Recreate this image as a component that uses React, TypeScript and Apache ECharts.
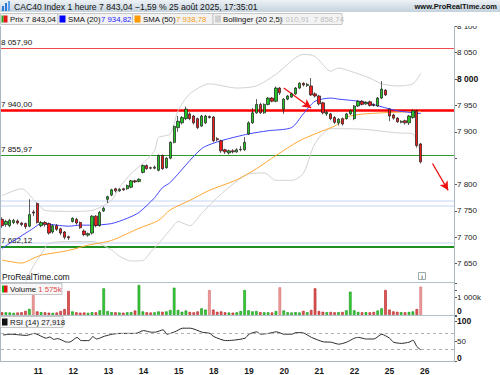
import React, { useEffect, useRef } from 'react';
import * as echarts from 'echarts';

// ---------- DATA ----------
const DAY_LABELS = ['8', '11', '12', '13', '14', '15', '18', '19', '20', '21', '22', '25', '26'];
const BARS_PER_DAY = 9;
const TOTAL_SLOTS = 116;

// [open, close, low, high]
const OHLC: number[][] = [
  // 8
  [7734, 7722, 7718, 7738], [7724, 7730, 7720, 7733], [7722, 7732, 7719, 7735], [7728, 7732, 7725, 7735],
  [7731, 7727, 7724, 7734], [7727, 7724, 7721, 7729], [7726, 7720, 7716, 7728], [7721, 7743, 7719, 7772],
  [7748, 7746, 7740, 7752],
  // 11
  [7764, 7728, 7726, 7766], [7722, 7728, 7719, 7731], [7728, 7724, 7720, 7731], [7726, 7708, 7705, 7728],
  [7710, 7722, 7707, 7724], [7722, 7715, 7712, 7725], [7716, 7708, 7704, 7718], [7710, 7700, 7696, 7712],
  [7701, 7699, 7695, 7703],
  // 12
  [7730, 7736, 7728, 7738], [7734, 7727, 7724, 7737], [7728, 7718, 7716, 7730], [7712, 7705, 7702, 7715],
  [7704, 7707, 7701, 7709], [7708, 7740, 7705, 7742], [7740, 7722, 7719, 7742], [7722, 7747, 7720, 7750],
  [7750, 7755, 7748, 7758],
  // 13
  [7772, 7777, 7765, 7779], [7780, 7790, 7778, 7792], [7792, 7788, 7785, 7794], [7788, 7791, 7786, 7793],
  [7792, 7790, 7788, 7794], [7792, 7798, 7790, 7800], [7795, 7807, 7793, 7809], [7807, 7805, 7803, 7809],
  [7806, 7810, 7804, 7812],
  // 14
  [7823, 7836, 7821, 7838], [7836, 7830, 7828, 7838], [7832, 7831, 7829, 7834], [7831, 7833, 7829, 7836],
  [7827, 7855, 7825, 7857], [7855, 7830, 7828, 7857], [7832, 7850, 7830, 7852], [7850, 7880, 7848, 7882],
  [7880, 7910, 7878, 7912],
  // 15
  [7908, 7920, 7900, 7930], [7917, 7927, 7914, 7930], [7925, 7943, 7922, 7948], [7934, 7925, 7922, 7937],
  [7930, 7917, 7914, 7932], [7925, 7908, 7905, 7927], [7911, 7930, 7909, 7932], [7917, 7930, 7915, 7932],
  [7929, 7927, 7925, 7931],
  // 18
  [7928, 7883, 7880, 7930], [7887, 7885, 7882, 7890], [7883, 7864, 7860, 7885], [7866, 7862, 7858, 7868],
  [7860, 7864, 7857, 7866], [7864, 7862, 7859, 7867], [7862, 7866, 7860, 7869], [7866, 7867, 7863, 7873],
  [7866, 7880, 7864, 7890],
  // 19
  [7896, 7917, 7894, 7920], [7917, 7936, 7915, 7945], [7936, 7952, 7934, 7962], [7952, 7936, 7934, 7955],
  [7936, 7952, 7934, 7954], [7952, 7964, 7950, 7966], [7964, 7958, 7956, 7966], [7958, 7983, 7956, 7986],
  [7983, 7974, 7970, 7985],
  // 20
  [7943, 7962, 7934, 7964], [7962, 7968, 7960, 7970], [7966, 7972, 7964, 7974], [7972, 7983, 7970, 7985],
  [7983, 7992, 7981, 7994], [7992, 7989, 7986, 7994], [7988, 7990, 7985, 7993], [7987, 7970, 7968, 8002],
  [7972, 7968, 7965, 7975],
  // 21
  [7968, 7953, 7950, 7970], [7955, 7936, 7933, 7957], [7934, 7937, 7930, 7940], [7934, 7925, 7922, 7936],
  [7927, 7918, 7915, 7930], [7917, 7924, 7912, 7926], [7925, 7915, 7912, 7927], [7925, 7934, 7923, 7936],
  [7934, 7940, 7932, 7942],
  // 22
  [7925, 7949, 7922, 7951], [7949, 7958, 7947, 7960], [7958, 7952, 7950, 7960], [7953, 7956, 7951, 7958],
  [7957, 7950, 7948, 7959], [7952, 7950, 7948, 7954], [7949, 7964, 7947, 7966], [7964, 7981, 7962, 7996],
  [7979, 7970, 7968, 7981],
  // 25
  [7943, 7930, 7920, 7945], [7932, 7926, 7923, 7934], [7926, 7919, 7917, 7928], [7918, 7920, 7916, 7922],
  [7921, 7917, 7914, 7923], [7917, 7930, 7913, 7932], [7927, 7940, 7925, 7942], [7940, 7874, 7870, 7942],
  [7877, 7843.04, 7840, 7879],
];

// volume in thousands
const VOLUME_K: number[] = [
  150, 150, 140, 120, 140, 150, 230, 340, 1206,
  200, 160, 150, 130, 120, 140, 220, 330, 1334,
  200, 150, 130, 140, 120, 160, 150, 260, 1483,
  220, 160, 150, 140, 130, 150, 160, 250, 1668,
  200, 150, 140, 150, 200, 180, 200, 280, 1520,
  280, 180, 250, 170, 150, 200, 370, 300, 1390,
  300, 180, 200, 150, 140, 130, 150, 220, 1390,
  260, 200, 220, 160, 150, 150, 140, 220, 1538,
  250, 150, 140, 160, 140, 230, 160, 280, 1483,
  220, 180, 160, 170, 150, 160, 170, 260, 1297,
  260, 170, 150, 160, 150, 170, 250, 370, 1390,
  300, 200, 180, 160, 150, 170, 200, 330, 1575,
];
const PALE_VOLUME_BARS = [8, 53, 71, 107];

// [bar index, value]
const SMA20: number[][] = [
  [0, 7679], [8, 7717], [10, 7726], [14, 7723], [17, 7721], [20, 7723], [23, 7723], [28, 7726], [32, 7736],
  [35, 7747], [39, 7775], [41, 7794], [43, 7804], [51, 7868], [56, 7883], [63, 7896], [68, 7902], [74, 7908],
  [77, 7934], [80, 7958], [84, 7964], [86, 7962], [92, 7957], [101, 7940], [107, 7934.82],
];
const SMA50: number[][] = [
  [0, 7657], [5, 7651], [8, 7660], [10, 7666], [17, 7675], [22, 7685], [28, 7694], [35, 7717], [40, 7732],
  [43, 7752], [48, 7770], [53, 7789], [60, 7809], [65, 7830], [70, 7855], [76, 7883], [82, 7902], [85, 7911],
  [89, 7930], [97, 7936], [105, 7938], [107, 7938.78],
];
const BOLL_UP: number[][] = [
  [0, 7779], [5, 7792], [9, 7764], [11, 7751], [17, 7749], [23, 7751], [28, 7770], [30, 7794], [33, 7821],
  [36, 7840], [39, 7864], [40, 7889], [43, 7896], [45, 7940], [48, 7972], [53, 7991], [60, 7983], [65, 7987],
  [70, 8009], [77, 8047], [80, 8043], [84, 8015], [86, 8021], [89, 8015], [94, 8002], [97, 7991], [101, 7987],
  [105, 7991], [107, 8010.91],
];
// the lower band enters the pane from below on the left
const BOLL_LOW: number[][] = [
  [6, 7616], [7, 7630], [8, 7645], [10, 7668], [12, 7688], [17, 7692], [23, 7692], [28, 7676], [30, 7664],
  [33, 7655], [36, 7656], [38, 7672], [40, 7688], [43, 7714], [45, 7730], [48, 7722], [51, 7745], [56, 7782],
  [63, 7820], [67, 7822], [70, 7808], [74, 7808], [77, 7821], [80, 7878], [84, 7906], [92, 7905], [101, 7898],
  [105, 7896], [107, 7858.74],
];
const RSI14: number[][] = [
  [0, 65], [2, 67], [6, 64], [8, 69], [10, 61], [11, 57], [12, 60], [13, 54], [14, 56], [16, 48], [17, 47],
  [19, 59], [20, 51], [22, 51], [23, 61], [24, 55], [26, 62], [28, 67], [30, 69], [34, 69], [36, 76], [38, 72],
  [39, 72], [41, 78], [42, 67], [44, 73], [46, 82], [48, 82], [51, 72], [53, 69], [54, 61], [57, 51], [59, 52],
  [62, 57], [63, 67], [65, 73], [66, 67], [68, 69], [70, 73], [72, 67], [74, 67], [75, 71], [77, 70], [79, 59],
  [82, 48], [84, 47], [86, 42], [88, 47], [90, 57], [91, 59], [93, 55], [95, 55], [97, 67], [99, 57], [100, 47],
  [102, 44], [104, 47], [105, 52], [106, 36], [107, 27.918],
];

const LEVEL_HIGH = 8057.9;
const LEVEL_RES = 7940.0;
const LEVEL_SUP = 7855.97;
const LEVEL_LOW = 7682.12;
const GAP_LEVELS = [7770, 7760.5, 7690];
const LAST_PRICE = 7843.04;
const LAST_VOLUME_K = 1575;
const LAST_RSI = 27.918;
const ARROWS: number[][][] = [
  [[72, 7983], [79, 7945]],
  [[110, 7840], [114, 7789]],
];

const PRICE_MIN = 7600;
const PRICE_MAX = 8150;
const PRICE_TICK = 50;
const PRICE_LABEL_MIN = 7650;
const PRICE_LABEL_MAX = 8100;

// ---------- helpers ----------
const grp = (v: number) => Math.round(v).toString().replace(/\B(?=(\d{3})+(?!\d))/g, ' ');
const fr2 = (v: number) => {
  const [i, d] = v.toFixed(2).split('.');
  return grp(Number(i)) + ',' + d;
};

const FONT = 'Liberation Sans';

const categories = Array.from({ length: TOTAL_SLOTS }, (_, i) => {
  const d = Math.floor(i / BARS_PER_DAY);
  return i % BARS_PER_DAY === 0 && d >= 1 && d < DAY_LABELS.length ? DAY_LABELS[d] : '';
});

function buildOption() {
  const up = OHLC.map((r) => r[1] >= r[0]);
  const volData = VOLUME_K.map((v, i) => {
    const pale = PALE_VOLUME_BARS.includes(i);
    const g = up[i];
    return {
      value: v,
      itemStyle: {
        color: g ? (pale ? '#a9e8a9' : '#35d035') : pale ? '#ee9d9d' : '#e25555',
        borderColor: g ? (pale ? '#55b855' : '#178a17') : pale ? '#d06464' : '#b02525',
        borderWidth: 0.6,
      },
    };
  });

  const levelLine = (y: number, color: string, width: number, text: string | null) => ({
    yAxis: y,
    lineStyle: { color, width, type: 'solid' },
    label: text
      ? {
          show: true,
          position: 'insideStartTop',
          formatter: text,
          color: '#111',
          fontSize: 8,
          fontFamily: FONT,
          distance: [1, 2],
        }
      : { show: false },
  });

  const gridL = 0;
  const gridR = 46;
  const pxPer = 26.5 / PRICE_TICK;
  const mainTop = 25 - (PRICE_MAX - PRICE_LABEL_MAX) * pxPer;
  const mainH = (PRICE_MAX - PRICE_MIN) * pxPer;

  const xBase = { type: 'category', data: categories, boundaryGap: true };

  const header: any[] = [
    {
      type: 'rect',
      shape: { x: 0, y: 0, width: 500, height: 12 },
      style: {
        fill: new echarts.graphic.LinearGradient(0, 0, 0, 1, [
          { offset: 0, color: '#edf2f6' },
          { offset: 1, color: '#c4d2dc' },
        ]),
      },
      z: 100,
    },
    { type: 'rect', shape: { x: 0, y: 12, width: 500, height: 14 }, style: { fill: '#ffffff' }, z: 100 },
    { type: 'rect', shape: { x: 2, y: 6, width: 2, height: 5 }, style: { fill: '#2f7ad8' }, z: 101 },
    { type: 'rect', shape: { x: 5, y: 3, width: 2, height: 8 }, style: { fill: '#2f7ad8' }, z: 101 },
    { type: 'rect', shape: { x: 8, y: 1, width: 2, height: 10 }, style: { fill: '#5aa0ea' }, z: 101 },
    {
      type: 'text',
      x: 14,
      y: 6.5,
      style: {
        text: 'CAC40 Index 1 heure 7 843,04 \u22121,59 % 25 août 2025, 17:35:01',
        fill: '#111',
        font: `8.6px "${FONT}"`,
        verticalAlign: 'middle',
      },
      z: 101,
    },
    {
      type: 'text',
      x: 497,
      y: 6.5,
      style: {
        text: 'www.ProRealTime.com',
        fill: '#111',
        font: `bold 7.5px "${FONT}"`,
        align: 'right',
        verticalAlign: 'middle',
      },
      z: 101,
    },
  ];
  const boxes = [
    { x: 0.5, w: 57.5 },
    { x: 58, w: 74.5 },
    { x: 132.5, w: 80.5 },
    { x: 213, w: 129 },
  ];
  boxes.forEach((b) =>
    header.push({
      type: 'rect',
      shape: { x: b.x, y: 13.5, width: b.w, height: 11 },
      style: { fill: '#f3f3f3', stroke: '#c6c6c6', lineWidth: 1 },
      z: 101,
    })
  );
  const legendText = (x: number, text: string, fill: string) => ({
    type: 'text',
    x,
    y: 19,
    style: { text, fill, font: `7.8px "${FONT}"`, verticalAlign: 'middle' },
    z: 102,
  });
  header.push(
    { type: 'rect', shape: { x: 1.5, y: 15.5, width: 2, height: 7 }, style: { fill: '#18b018' }, z: 102 },
    { type: 'rect', shape: { x: 3.5, y: 15.5, width: 4, height: 7 }, style: { fill: '#e01818' }, z: 102 },
    legendText(10, 'Prix 7 843,04', '#111'),
    { type: 'rect', shape: { x: 59.5, y: 15.5, width: 6, height: 7 }, style: { fill: '#0000ff' }, z: 102 },
    legendText(68, 'SMA (20)', '#111'),
    legendText(101, '7 934,82', '#2626ff'),
    { type: 'rect', shape: { x: 134.5, y: 15.5, width: 6, height: 7 }, style: { fill: '#ff9a00' }, z: 102 },
    legendText(143, 'SMA (50)', '#111'),
    legendText(176, '7 938,78', '#f29b22'),
    { type: 'rect', shape: { x: 215, y: 15.5, width: 6, height: 7 }, style: { fill: '#cfcfcf' }, z: 102 },
    legendText(223, 'Bollinger (20 2,5)', '#111'),
    legendText(279, '8 010,91  7 858,74', '#bdbdbd')
  );

  const frame: any[] = [
    { type: 'line', shape: { x1: 0.5, y1: 26, x2: 0.5, y2: 362 }, style: { stroke: '#a9b8c3', lineWidth: 1 }, z: 50 },
    { type: 'line', shape: { x1: 454.5, y1: 26, x2: 454.5, y2: 362 }, style: { stroke: '#a9b8c3', lineWidth: 1 }, z: 50 },
    { type: 'line', shape: { x1: 0, y1: 282.5, x2: 454.5, y2: 282.5 }, style: { stroke: '#b2c0ca', lineWidth: 1 }, z: 50 },
    { type: 'line', shape: { x1: 0, y1: 315.5, x2: 454.5, y2: 315.5 }, style: { stroke: '#b2c0ca', lineWidth: 1 }, z: 50 },
    {
      type: 'text',
      x: 2,
      y: 276.5,
      style: { text: 'ProRealTime.com', fill: '#111', font: `8.5px "${FONT}"`, verticalAlign: 'middle' },
      z: 60,
    },
    { type: 'rect', shape: { x: 418.5, y: 272.5, width: 7, height: 7 }, style: { fill: '#fff', stroke: '#9aa', lineWidth: 1 }, z: 60 },
    {
      type: 'text',
      x: 422,
      y: 276.5,
      style: { text: 'i', fill: '#666', font: `bold 6px "${FONT}"`, align: 'center', verticalAlign: 'middle' },
      z: 61,
    },
    // volume label
    { type: 'rect', shape: { x: 0.5, y: 283.5, width: 61.5, height: 11 }, style: { fill: '#f7f7f7', stroke: '#c6c6c6', lineWidth: 1 }, z: 60 },
    { type: 'rect', shape: { x: 2, y: 285.5, width: 2, height: 7 }, style: { fill: '#18b018' }, z: 61 },
    { type: 'rect', shape: { x: 4, y: 285.5, width: 3.5, height: 7 }, style: { fill: '#e01818' }, z: 61 },
    {
      type: 'text',
      x: 10,
      y: 289,
      style: {
        text: '{a|Volume} {b|1 575k}',
        font: `7.8px "${FONT}"`,
        verticalAlign: 'middle',
        rich: { a: { fill: '#111', fontSize: 7.8, fontFamily: FONT }, b: { fill: '#e04848', fontSize: 7.8, fontFamily: FONT } },
      },
      z: 61,
    },
    // rsi label
    { type: 'rect', shape: { x: 0.5, y: 316.5, width: 62.5, height: 11 }, style: { fill: '#f7f7f7', stroke: '#c6c6c6', lineWidth: 1 }, z: 60 },
    { type: 'rect', shape: { x: 2, y: 318.5, width: 5.5, height: 7 }, style: { fill: '#111' }, z: 61 },
    {
      type: 'text',
      x: 10,
      y: 322,
      style: { text: 'RSI (14) 27,918', fill: '#111', font: `7.8px "${FONT}"`, verticalAlign: 'middle' },
      z: 61,
    },
  ];

  const rightBox = (text: string, color: string) => ({
    show: true,
    position: 'end',
    formatter: text,
    color,
    fontSize: 8,
    fontFamily: FONT,
    backgroundColor: '#ffffff',
    borderColor: '#a0a8b0',
    borderWidth: 1,
    padding: [1, 2, 0, 2],
    distance: 4,
  });

  return {
    animation: false,
    backgroundColor: '#ffffff',
    textStyle: { fontFamily: FONT },
    grid: [
      { left: gridL, right: gridR, top: mainTop, height: mainH },
      { left: gridL, right: gridR, top: 283, height: 32 },
      { left: gridL, right: gridR, top: 316, height: 45 },
    ],
    xAxis: [
      { ...xBase, gridIndex: 0, show: false },
      { ...xBase, gridIndex: 1, show: false },
      {
        ...xBase,
        gridIndex: 2,
        axisLine: { show: true, lineStyle: { color: '#a9b8c3', width: 1 } },
        axisTick: { show: false },
        axisLabel: {
          interval: 0,
          color: '#1a1a1a',
          fontSize: 8.5,
          fontWeight: 'bold',
          fontFamily: FONT,
          margin: 5,
        },
      },
    ],
    yAxis: [
      {
        type: 'value',
        gridIndex: 0,
        position: 'right',
        min: PRICE_MIN,
        max: PRICE_MAX,
        interval: PRICE_TICK,
        splitLine: { show: false },
        axisLine: { show: false },
        axisTick: { show: true, length: 3, lineStyle: { color: '#555' } },
        axisLabel: {
          margin: 3,
          fontSize: 8,
          color: '#222',
          fontFamily: FONT,
          formatter: (v: number) => {
            if (v < PRICE_LABEL_MIN || v > PRICE_LABEL_MAX) return '';
            if (Math.abs(v - LAST_PRICE) < 20) return ''; // hidden behind the last-price tag
            return v === 8000 ? '{b|' + grp(v) + '}' : grp(v);
          },
          rich: { b: { fontWeight: 'bold', fontSize: 8.5, color: '#111', fontFamily: FONT } },
        },
      },
      {
        type: 'value',
        gridIndex: 1,
        position: 'right',
        min: 0,
        max: 1780,
        interval: 1000,
        splitLine: { show: false },
        axisLine: { show: false },
        axisTick: { show: true, length: 3, lineStyle: { color: '#555' } },
        axisLabel: {
          margin: 3,
          fontSize: 8,
          color: '#222',
          fontFamily: FONT,
          formatter: (v: number) => (v === 0 ? '{z|0}' : v === 1000 ? '1 000k' : ''),
          rich: { z: { fontWeight: 'bold', fontSize: 8.5, padding: [0, 0, 9, 0], color: '#111', fontFamily: FONT } },
        },
      },
      {
        type: 'value',
        gridIndex: 2,
        position: 'right',
        min: 0,
        max: 112.5,
        interval: 50,
        splitLine: { show: false },
        axisLine: { show: false },
        axisTick: { show: true, length: 3, lineStyle: { color: '#555' } },
        axisLabel: {
          margin: 3,
          fontSize: 8,
          color: '#222',
          fontFamily: FONT,
          formatter: (v: number) => (v === 100 ? '{b|100}' : v === 50 ? '50' : v === 0 ? '{z|0}' : ''),
          rich: {
            b: { fontWeight: 'bold', fontSize: 8.5, color: '#111', fontFamily: FONT },
            z: { fontWeight: 'bold', fontSize: 8.5, padding: [0, 0, 7, 0], color: '#111', fontFamily: FONT },
          },
        },
      },
    ],
    series: [
      {
        type: 'line',
        xAxisIndex: 0,
        yAxisIndex: 0,
        data: BOLL_UP,
        symbol: 'none',
        smooth: 0.25,
        lineStyle: { color: '#d2d2d2', width: 1 },
        z: 2,
      },
      {
        type: 'line',
        xAxisIndex: 0,
        yAxisIndex: 0,
        data: BOLL_LOW,
        symbol: 'none',
        smooth: 0.25,
        lineStyle: { color: '#d2d2d2', width: 1 },
        z: 2,
      },
      {
        type: 'line',
        xAxisIndex: 0,
        yAxisIndex: 0,
        data: SMA50,
        symbol: 'none',
        smooth: 0.25,
        lineStyle: { color: '#ffa733', width: 1 },
        z: 3,
      },
      {
        type: 'line',
        xAxisIndex: 0,
        yAxisIndex: 0,
        data: SMA20,
        symbol: 'none',
        smooth: 0.25,
        lineStyle: { color: '#4444ff', width: 1 },
        z: 3,
      },
      {
        type: 'candlestick',
        xAxisIndex: 0,
        yAxisIndex: 0,
        data: OHLC,
        barWidth: 2.8,
        itemStyle: {
          color: '#22c322',
          color0: '#f01c1c',
          borderColor: '#1a1a1a',
          borderColor0: '#1a1a1a',
          borderWidth: 0.7,
        },
        z: 5,
        markLine: {
          silent: true,
          symbol: 'none',
          animation: false,
          z: 1,
          data: [
            ...GAP_LEVELS.map((g) => levelLine(g, '#d9e3f6', 1.6, null)),
            levelLine(LEVEL_HIGH, '#f24a4a', 1.2, fr2(LEVEL_HIGH)),
            levelLine(LEVEL_RES, '#ff0000', 2.6, fr2(LEVEL_RES)),
            levelLine(LEVEL_SUP, '#2d9a2d', 1.2, fr2(LEVEL_SUP)),
            levelLine(LEVEL_LOW, '#1f8f1f', 1.8, fr2(LEVEL_LOW)),
            {
              yAxis: LAST_PRICE,
              lineStyle: { opacity: 0, width: 0 },
              label: {
                show: true,
                position: 'end',
                formatter: fr2(LAST_PRICE),
                color: '#000',
                fontWeight: 'bold',
                fontSize: 9,
                fontFamily: FONT,
                backgroundColor: '#f6d31c',
                padding: [2, 2, 1, 2],
                distance: 4,
              },
            },
          ],
        },
      },
      {
        type: 'line',
        xAxisIndex: 0,
        yAxisIndex: 0,
        data: [],
        z: 8,
        markLine: {
          silent: true,
          symbol: ['none', 'arrow'],
          symbolSize: [7, 9],
          animation: false,
          lineStyle: { color: '#ee1111', width: 1.3, type: 'solid' },
          label: { show: false },
          data: ARROWS.map((a) => [{ coord: a[0] }, { coord: a[1] }]),
        },
      },
      {
        type: 'bar',
        xAxisIndex: 1,
        yAxisIndex: 1,
        data: volData,
        barWidth: 2.6,
        markLine: {
          silent: true,
          symbol: 'none',
          animation: false,
          data: [
            {
              yAxis: LAST_VOLUME_K,
              lineStyle: { opacity: 0, width: 0 },
              label: rightBox('1 575k', '#e04848'),
            },
          ],
        },
      },
      {
        type: 'line',
        xAxisIndex: 2,
        yAxisIndex: 2,
        data: RSI14,
        symbol: 'none',
        smooth: 0.2,
        lineStyle: { color: '#2a2a2a', width: 1 },
        markLine: {
          silent: true,
          symbol: 'none',
          animation: false,
          data: [
            { yAxis: 70, lineStyle: { color: '#b0b0b0', width: 1, type: [3, 3] }, label: { show: false } },
            { yAxis: 30, lineStyle: { color: '#b0b0b0', width: 1, type: [3, 3] }, label: { show: false } },
            {
              yAxis: LAST_RSI,
              lineStyle: { opacity: 0, width: 0 },
              label: rightBox('27,918', '#111'),
            },
          ],
        },
      },
    ],
    graphic: { elements: [...frame, ...header] },
  };
}

export default function App() {
  const ref = useRef<HTMLDivElement>(null);
  useEffect(() => {
    if (!ref.current) return;
    const chart = echarts.init(ref.current, null, { renderer: 'svg' });
    chart.setOption(buildOption() as any);
    return () => chart.dispose();
  }, []);
  return <div ref={ref} style={{ position: 'absolute', left: 0, top: 0, width: 500, height: 375 }} />;
}
